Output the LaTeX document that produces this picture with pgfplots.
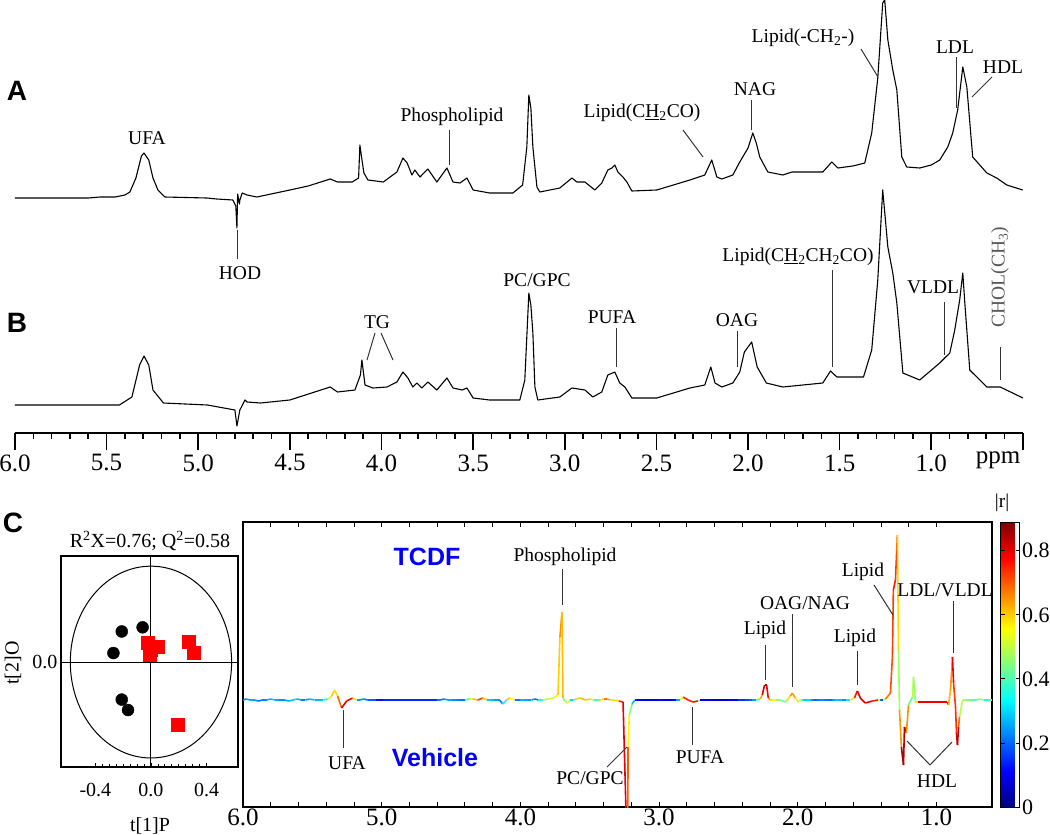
\documentclass[border=0pt]{standalone}
\usepackage{pgfplots}
\usepackage{pgfplotstable}
\pgfplotsset{compat=1.18}
\usepackage{fontspec}
\setmainfont{Liberation Serif}
\newfontfamily\arial{Liberation Sans}
\newcommand\lab{\fontsize{19.5}{22}\selectfont}
\newcommand\tk{\fontsize{25}{27}\selectfont}
\newcommand\ck{\fontsize{22}{24}\selectfont}
\newcommand\sk{\fontsize{20}{22}\selectfont}

% spectrum A (ppm, intensity above baseline)
\pgfplotstableread{
ppm h
6.00 0
5.60 0
5.536 1
5.454 1
5.40 3
5.373 6
5.34 20
5.310 42
5.296 45
5.27 38
5.247 20
5.22 8
5.182 1
4.953 0
4.90 -1
4.811 -2
4.795 -8
4.789 -30
4.785 4
4.775 -6
4.773 -2
4.760 5
4.734 3
4.68 1
4.50 8
4.40 12
4.28 19
4.24 16
4.16 16
4.125 20
4.118 53
4.108 40
4.096 25
4.074 18
3.99 16
3.916 26
3.883 40
3.86 35
3.834 23
3.818 28
3.79 21
3.747 29
3.698 16
3.643 30
3.61 16
3.572 15
3.534 20
3.50 8
3.41 5
3.283 5
3.23 13
3.207 51
3.196 103
3.185 90
3.174 51
3.152 11
3.136 6
3.027 10
2.961 20
2.934 16
2.89 16
2.836 8
2.798 15
2.765 28
2.743 30
2.727 33
2.71 26
2.683 21
2.661 16
2.634 7
2.498 8
2.317 18
2.236 23
2.198 38
2.17 21
2.143 19
2.083 23
2.045 36
2.00 50
1.974 65
1.955 55
1.936 41
1.892 26
1.810 23
1.760 26
1.701 26
1.592 26
1.543 36
1.510 30
1.428 32
1.363 35
1.325 65
1.292 120
1.265 195
1.254 198
1.237 158
1.210 128
1.188 108
1.161 41
1.134 31
1.063 30
1.00 33
0.954 38
0.910 51
0.883 65
0.856 88
0.828 131
0.806 111
0.774 41
0.697 25
0.643 20
0.588 13
0.501 8
}\specA

% spectrum B
\pgfplotstableread{
ppm h
6.00 0
5.60 0
5.43 0
5.362 8
5.32 40
5.296 49
5.27 40
5.247 15
5.19 2
4.95 0
4.80 -5
4.789 -21
4.773 -5
4.745 5
4.734 3
4.66 2
4.50 5
4.28 18
4.24 13
4.145 15
4.115 30
4.107 45
4.09 20
4.047 17
3.97 18
3.916 23
3.883 33
3.856 27
3.829 18
3.807 22
3.78 17
3.747 23
3.698 15
3.643 27
3.61 17
3.56 15
3.534 17
3.50 7
3.41 5
3.245 5
3.218 25
3.196 112
3.185 100
3.174 72
3.163 18
3.147 5
3.027 8
2.961 17
2.89 15
2.847 8
2.798 13
2.765 30
2.727 33
2.70 22
2.672 18
2.634 7
2.498 7
2.317 17
2.236 20
2.203 38
2.18 22
2.143 18
2.083 22
2.045 33
2.02 53
1.98 63
1.95 38
1.90 22
1.81 18
1.592 22
1.55 34
1.515 28
1.37 28
1.325 55
1.292 125
1.265 215
1.237 158
1.210 132
1.188 102
1.155 32
1.063 25
0.954 42
0.899 52
0.872 75
0.845 105
0.828 132
0.817 102
0.79 35
0.697 18
0.624 18
0.50 7
}\specB

% correlation-coloured loading spectrum (ppm, value, |r|)
\pgfplotstableread{
ppm v r
6.000 0 0.30
5.975 1 0.12
5.950 0 0.38
5.917 0 0.15
5.890 -1 0.32
5.860 0 0.10
5.830 0 0.35
5.800 1 0.18
5.770 0 0.40
5.740 0 0.12
5.700 0 0.35
5.670 -1 0.15
5.640 0 0.40
5.610 1 0.20
5.580 0 0.32
5.550 0 0.12
5.520 1 0.38
5.484 0 0.18
5.450 0 0.35
5.420 0 0.22
5.390 1 0.45
5.365 3 0.58
5.339 10 0.62
5.318 4 0.55
5.289 -8 0.82
5.253 -1 0.78
5.209 2 0.80
5.180 0 0.35
5.159 0 0.15
5.130 1 0.32
5.100 0 0.12
5.070 0 0.28
5.040 0 0.10
4.993 0 0.15
4.603 0 0.15
4.580 0 0.30
4.550 1 0.12
4.520 0 0.38
4.490 0 0.15
4.460 0 0.32
4.430 0 0.12
4.400 0 0.30
4.370 1 0.50
4.343 1 0.58
4.307 0 0.65
4.271 2 0.80
4.240 0 0.40
4.210 0 0.18
4.180 0 0.35
4.150 0 0.15
4.127 -4 0.30
4.100 0 0.40
4.076 2 0.82
4.040 0 0.30
4.004 0 0.15
3.975 0 0.38
3.950 0 0.15
3.920 0 0.35
3.896 1 0.12
3.870 0 0.30
3.840 0 0.40
3.800 1 0.55
3.765 2 0.50
3.729 5 0.58
3.715 63 0.62
3.700 88 0.68
3.693 2 0.55
3.680 -1 0.35
3.664 -3 0.68
3.640 0 0.35
3.621 0 0.25
3.595 1 0.55
3.570 2 0.65
3.530 0 0.58
3.498 1 0.62
3.470 0 0.40
3.450 0 0.35
3.426 0 0.50
3.400 1 0.65
3.375 1 0.70
3.350 0 0.55
3.330 0 0.45
3.290 -1 0.72
3.260 -2 0.78
3.231 -150 0.82
3.226 -150 0.82
3.224 -47 0.58
3.215 -15 0.55
3.195 -4 0.35
3.175 0 0.20
3.159 0 0.08
3.130 0 0.15
3.100 0 0.05
3.065 0 0.12
3.030 0 0.04
3.000 0 0.18
2.970 0 0.06
2.940 0 0.15
2.910 0 0.05
2.880 0 0.20
2.848 0 0.30
2.827 3 0.78
2.791 0 0.72
2.755 -2 0.78
2.720 -1 0.75
2.704 0 0.15
2.675 0 0.06
2.650 0 0.15
2.620 0 0.04
2.596 0 0.12
2.570 0 0.04
2.540 0 0.10
2.510 0 0.04
2.487 0 0.15
2.460 0 0.05
2.430 0 0.12
2.400 0 0.20
2.379 0 0.10
2.350 0 0.25
2.330 0 0.15
2.300 0 0.35
2.271 1 0.45
2.256 5 0.80
2.240 15 0.82
2.225 15 0.82
2.213 2 0.75
2.199 0 0.55
2.180 0 0.60
2.160 0 0.50
2.126 0 0.45
2.090 -2 0.38
2.076 0 0.55
2.054 4 0.62
2.040 7 0.68
2.018 2 0.60
1.997 -2 0.55
1.975 0 0.45
1.960 0 0.35
1.932 0 0.25
1.905 0 0.35
1.880 0 0.10
1.860 0 0.30
1.838 0 0.15
1.810 0 0.32
1.780 0 0.12
1.755 0 0.30
1.730 0 0.20
1.705 0 0.38
1.680 0 0.18
1.650 0 0.30
1.621 0 0.35
1.592 2 0.70
1.571 9 0.82
1.549 2 0.80
1.513 -3 0.80
1.462 -1 0.78
1.420 0 0.75
1.405 0 0.30
1.390 0 0.12
1.383 0 0.25
1.368 1 0.65
1.332 7 0.70
1.318 43 0.72
1.311 110 0.73
1.296 120 0.78
1.282 165 0.68
1.274 50 0.50
1.267 -10 0.45
1.253 -47 0.85
1.238 -65 0.88
1.231 -27 0.80
1.217 -33 0.86
1.202 -5 0.45
1.173 3 0.40
1.166 23 0.58
1.152 -2 0.35
1.130 -2 0.80
1.080 -2 0.78
1.020 -2 0.80
0.960 -2 0.78
0.921 -2 0.80
0.913 -5 0.75
0.899 10 0.50
0.885 43 0.80
0.877 17 0.78
0.863 -7 0.68
0.856 -33 0.80
0.849 -45 0.86
0.841 -27 0.80
0.834 -17 0.58
0.812 0 0.40
0.790 0 0.55
0.765 0 0.35
0.740 0 0.50
0.715 0 0.30
0.690 1 0.55
0.660 0 0.40
0.630 0 0.30
0.600 0 0.50
}\corr

% scores
\pgfplotstableread{
x y
-0.21 0.22
-0.06 0.25
-0.27 0.065
-0.21 -0.27
-0.165 -0.345
}\vehicle
\pgfplotstableread{
x y
-0.02 0.14
0.05 0.11
-0.01 0.05
0.00 0.09
0.27 0.145
0.31 0.065
0.195 -0.45
}\tcdf

\begin{document}
\begin{tikzpicture}
\path[use as bounding box] (0pt,0pt) rectangle (1050pt,-835pt);

% ---------- A and B spectra ----------
\begin{axis}[at={(15pt,-433pt)}, anchor=south west, scale only axis,
  width=1008pt, height=433pt,
  xmin=0.5, xmax=6.0, x dir=reverse, ymin=0, ymax=433,
  axis x line*=bottom, axis y line=none, clip=false,
  axis line style={line width=1.6pt},
  xtick={0.5,1,1.5,2,2.5,3,3.5,4,4.5,5,5.5,6},
  xticklabels={,1.0,1.5,2.0,2.5,3.0,3.5,4.0,4.5,5.0,5.5,6.0},
  minor tick num=4, tick align=outside,
  major tick length=17pt, minor tick length=6pt,
  every tick/.style={black, line width=1.6pt},
  xticklabel style={font=\tk, yshift=-1pt}]
\addplot[black, line width=1.1pt, line join=round] table[x=ppm, y expr=\thisrow{h}+235] {\specA};
\addplot[black, line width=1.1pt, line join=round] table[x=ppm, y expr=\thisrow{h}+28] {\specB};
\end{axis}

% ---------- score plot ----------
\begin{axis}[at={(61pt,-767pt)}, anchor=south west, scale only axis,
  width=177pt, height=211pt,
  xmin=-0.647, xmax=0.626, ymin=-0.755, ymax=0.763,
  axis line style={line width=1.2pt},
  xtick={-0.4,0,0.4}, xticklabels={-0.4,0.0,0.4},
  ytick={0}, yticklabels={0.0},
  minor x tick num=7, tick align=inside, xtick pos=bottom, ytick pos=left,
  major tick length=4pt, minor tick length=3pt,
  every tick/.style={black, line width=0.8pt},
  ytick style={draw=none},
  xticklabel style={font=\sk, yshift=-13pt},
  yticklabel style={font=\sk}]
\draw[black, line width=1pt] (axis cs:0,-0.755) -- (axis cs:0,0.763);
\draw[black, line width=1pt] (axis cs:-0.647,0) -- (axis cs:0.626,0);
\draw[black, line width=1pt] (axis cs:0,0) ellipse [x radius=0.58, y radius=0.69];
\addplot[only marks, mark=*, mark size=6pt, black] table[x=x,y=y] {\vehicle};
\addplot[only marks, mark=square*, mark size=6.5pt, red] table[x=x,y=y] {\tcdf};
\end{axis}

% ---------- colour-coded loadings ----------
\begin{axis}[at={(243pt,-807pt)}, anchor=south west, scale only axis,
  width=749pt, height=285pt,
  xmin=0.6, xmax=6.0, x dir=reverse, ymin=-107, ymax=178,
  axis line style={line width=1.2pt},
  xtick={1,2,3,4,5,6}, xticklabels={1.0,2.0,3.0,4.0,5.0,6.0},
  minor x tick num=4, ytick=\empty,
  tick align=inside, xtick pos=both,
  major tick length=5pt, minor tick length=5pt,
  every tick/.style={black, line width=0.9pt},
  xticklabel style={font=\tk, yshift=2pt},
  colormap/jet, point meta min=0, point meta max=0.89,
  colorbar,
  colorbar style={at={(parent axis.north east)}, anchor=north west,
    width=19pt, xshift=0pt,
    ytick={0,0.2,0.4,0.6,0.8}, yticklabels={0,0.2,0.4,0.6,0.8},
    yticklabel style={font=\ck, xshift=-1pt},
    major tick length=4pt, axis line style={line width=1pt}}]
\addplot[mesh, line width=1.6pt, point meta=explicit] table[x=ppm, y=v, meta=r] {\corr};
\end{axis}

% ---------- annotations ----------
\begin{scope}[x=1pt, y=-1pt, every node/.style={inner sep=0pt}]
\node[font=\arial\bfseries\fontsize{28}{28}\selectfont] at (17,91) {A};
\node[font=\arial\bfseries\fontsize{28}{28}\selectfont] at (17,323) {B};
\node[font=\arial\bfseries\fontsize{28}{28}\selectfont] at (13,523) {C};
\begin{scope}[line width=1pt, draw=black!80]
% A labels
\node[font=\lab] at (147,138) {UFA};
\node[font=\lab] at (240,273) {HOD};
\draw (237,230) -- (237,259);
\node[font=\lab] at (452,117) {Phospholipid};
\draw (449,130) -- (449,165);
\node[font=\lab] at (642,113) {Lipid(C\underline{H}\textsubscript{2}CO)};
\draw (683,130) -- (703,157);
\node[font=\lab] at (755,89) {NAG};
\draw (751,100) -- (751,130);
\node[font=\lab] at (803,38) {Lipid(-CH\textsubscript{2}-)};
\draw (861,49) -- (878,77);
\node[font=\lab] at (955,47) {LDL};
\draw (956,57) -- (956,108);
\node[font=\lab] at (1003,67) {HDL};
\draw (992,77) -- (972,97);
% B labels
\node[font=\lab] at (377,322) {TG};
\draw (375,333) -- (367,360);
\draw (381,333) -- (393,360);
\node[font=\lab] at (537,280) {PC/GPC};
\node[font=\lab] at (612,317) {PUFA};
\draw (616,328) -- (616,367);
\node[font=\lab] at (737,320) {OAG};
\draw (737,331) -- (737,367);
\node[font=\lab] at (798,257) {Lipid(C\underline{H}\textsubscript{2}CH\textsubscript{2}CO)};
\draw (832,270) -- (832,367);
\node[font=\lab] at (933,287) {VLDL};
\draw (944,302) -- (944,355);
\node[font=\lab, text=black!65, rotate=90] at (1000,277) {CHOL(CH\textsubscript{3})};
\draw (1000,347) -- (1000,380);
\node[font=\tk] at (998,460) {ppm};
% score plot labels
\node[font=\sk] at (150,541) {R\textsuperscript{2}X=0.76; Q\textsuperscript{2}=0.58};
\node[font=\sk] at (150,826) {t[1]P};
\node[font=\sk, rotate=90] at (13,663) {t[2]O};
% loadings labels
\node[font=\arial\bfseries\fontsize{25}{25}\selectfont, text=blue] at (427,557) {TCDF};
\node[font=\arial\bfseries\fontsize{25}{25}\selectfont, text=blue] at (435,758) {Vehicle};
\node[font=\lab] at (565,557) {Phospholipid};
\draw (562,569) -- (562,605);
\node[font=\lab] at (347,763) {UFA};
\draw (343,710) -- (343,748);
\node[font=\lab] at (590,778) {PC/GPC};
\draw (607,767) -- (627,747);
\node[font=\lab] at (700,757) {PUFA};
\draw (692,707) -- (692,745);
\node[font=\lab] at (765,630) {Lipid};
\draw (765,645) -- (765,680);
\node[font=\lab] at (805,603) {OAG/NAG};
\draw (792,614) -- (792,687);
\node[font=\lab] at (855,638) {Lipid};
\draw (857,651) -- (857,685);
\node[font=\lab] at (863,572) {Lipid};
\draw (874,585) -- (893,615);
\node[font=\lab] at (945,590) {LDL/VLDL};
\draw (953,601) -- (953,653);
\node[font=\lab] at (937,781) {HDL};
\draw (930,765) -- (907,741);
\draw (930,765) -- (952,742);
\node[font=\lab] at (1002,503) {|r|};
\end{scope}
\end{scope}
\end{tikzpicture}
\end{document}
